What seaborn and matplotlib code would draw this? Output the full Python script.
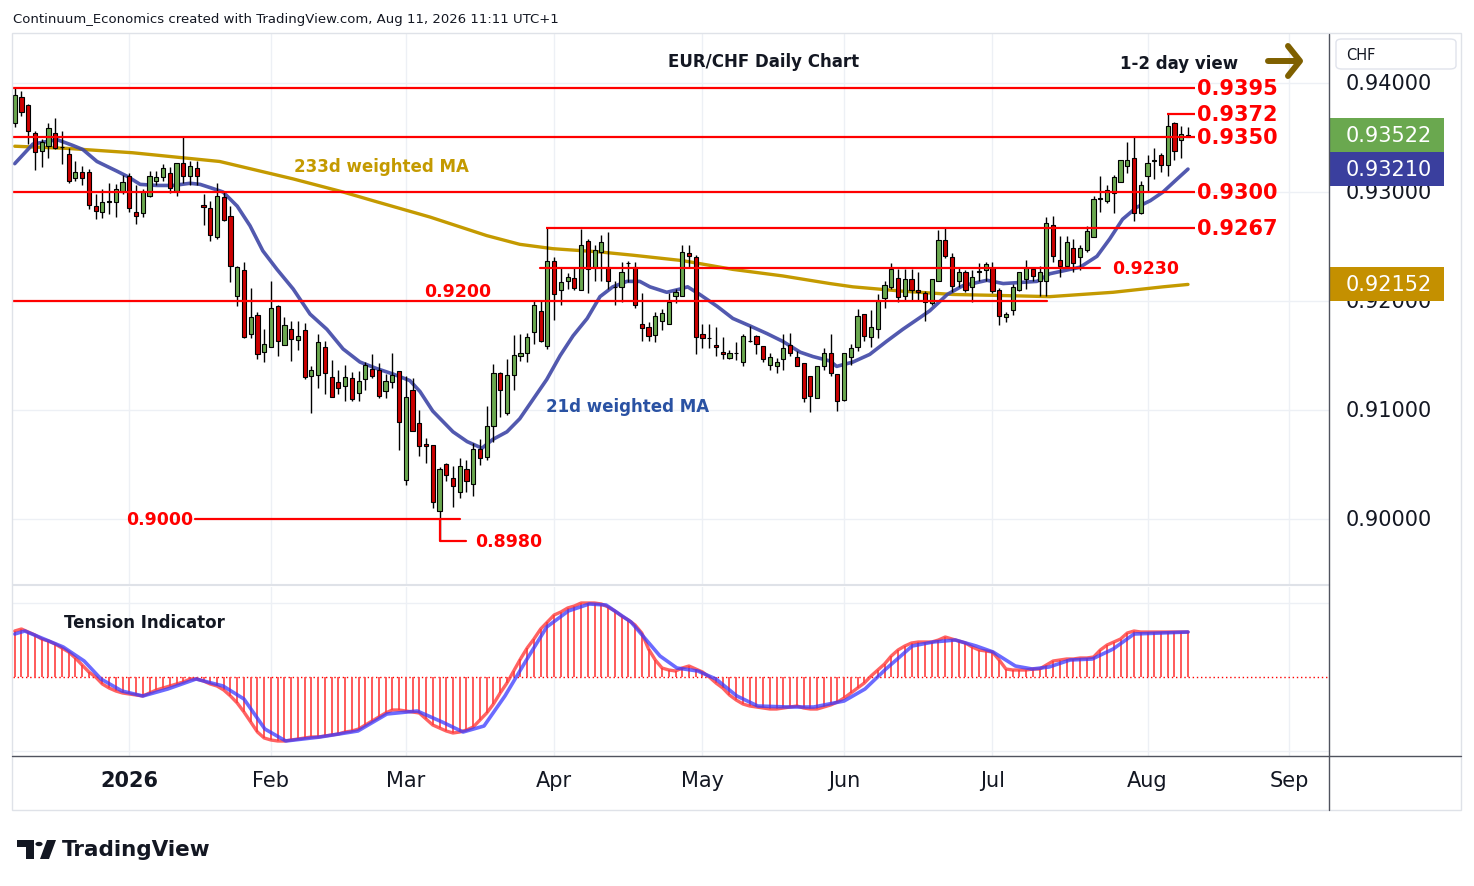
import numpy as np
import pandas as pd
import matplotlib
matplotlib.use("Agg")
import matplotlib.pyplot as plt
import seaborn as sns
from matplotlib import transforms
from matplotlib.patches import Rectangle, Polygon, Circle, FancyBboxPatch
from matplotlib.lines import Line2D

# ---------------- DATA ----------------
start_date = "2025-12-08"
end_date = "2026-08-11"
holidays = ["2025-12-25", "2026-01-01"]

opens = [0.9363,0.9387,0.9380,0.9354,0.9338,0.9342,0.9354,0.9341,0.9335,0.9313,
 0.9318,0.9318,0.9287,0.9282,0.9291,0.9291,0.9300,0.9315,0.9282,0.9281,
 0.9296,0.9310,0.9314,0.9317,0.9301,0.9327,0.9315,0.9322,0.9288,0.9285,
 0.9259,0.9295,0.9278,0.9205,0.9228,0.9170,0.9187,0.9153,0.9158,0.9195,
 0.9160,0.9174,0.9164,0.9173,0.9131,0.9132,0.9158,0.9130,0.9126,0.9122,
 0.9129,0.9116,0.9128,0.9138,0.9137,0.9117,0.9126,0.9136,0.9036,0.9118,
 0.9088,0.9069,0.9068,0.9007,0.9050,0.9038,0.9025,0.9046,0.9032,0.9064,
 0.9057,0.9085,0.9134,0.9097,0.9132,0.9150,0.9152,0.9172,0.9191,0.9159,
 0.9237,0.9210,0.9218,0.9221,0.9210,0.9255,0.9230,0.9245,0.9231,0.9213,
 0.9213,0.9235,0.9231,0.9179,0.9176,0.9169,0.9182,0.9179,0.9205,0.9205,
 0.9244,0.9240,0.9170,0.9166,0.9160,0.9153,0.9148,0.9152,0.9144,0.9163,
 0.9168,0.9159,0.9141,0.9140,0.9147,0.9160,0.9149,0.9143,0.9131,0.9111,
 0.9140,0.9152,0.9133,0.9109,0.9149,0.9158,0.9188,0.9167,0.9174,0.9203,
 0.9213,0.9221,0.9205,0.9220,0.9210,0.9207,0.9198,0.9218,0.9256,0.9240,
 0.9218,0.9227,0.9213,0.9227,0.9228,0.9230,0.9210,0.9185,0.9192,0.9210,
 0.9220,0.9229,0.9218,0.9218,0.9270,0.9238,0.9232,0.9249,0.9240,0.9247,
 0.9259,0.9294,0.9292,0.9299,0.9309,0.9324,0.9331,0.9281,0.9315,0.9328,
 0.9334,0.9325,0.9363,0.9348,0.9350]

highs = [0.9395,0.9393,0.9381,0.9356,0.9349,0.9363,0.9368,0.9356,0.9340,0.9328,
 0.9324,0.9321,0.9298,0.9303,0.9308,0.9307,0.9316,0.9317,0.9306,0.9303,
 0.9319,0.9319,0.9326,0.9323,0.9327,0.9350,0.9328,0.9328,0.9298,0.9292,
 0.9308,0.9300,0.9287,0.9232,0.9236,0.9212,0.9190,0.9174,0.9218,0.9196,
 0.9185,0.9182,0.9182,0.9180,0.9140,0.9170,0.9163,0.9146,0.9137,0.9141,
 0.9135,0.9136,0.9144,0.9151,0.9143,0.9133,0.9152,0.9136,0.9131,0.9129,
 0.9100,0.9074,0.9068,0.9048,0.9051,0.9049,0.9056,0.9054,0.9070,0.9073,
 0.9104,0.9142,0.9135,0.9147,0.9169,0.9170,0.9171,0.9201,0.9200,0.9267,
 0.9240,0.9230,0.9226,0.9230,0.9266,0.9257,0.9251,0.9261,0.9263,0.9218,
 0.9236,0.9237,0.9236,0.9207,0.9181,0.9190,0.9193,0.9207,0.9211,0.9251,
 0.9251,0.9242,0.9179,0.9179,0.9176,0.9167,0.9155,0.9162,0.9170,0.9177,
 0.9169,0.9159,0.9152,0.9148,0.9170,0.9171,0.9154,0.9143,0.9131,0.9140,
 0.9157,0.9170,0.9133,0.9152,0.9161,0.9193,0.9188,0.9192,0.9206,0.9218,
 0.9235,0.9229,0.9229,0.9229,0.9227,0.9209,0.9220,0.9265,0.9267,0.9244,
 0.9231,0.9228,0.9228,0.9235,0.9236,0.9236,0.9212,0.9190,0.9216,0.9227,
 0.9238,0.9231,0.9232,0.9277,0.9278,0.9260,0.9260,0.9257,0.9251,0.9269,
 0.9296,0.9315,0.9306,0.9316,0.9329,0.9346,0.9350,0.9310,0.9334,0.9340,
 0.9336,0.9372,0.9364,0.9361,0.9360]

lows = [0.9360,0.9370,0.9344,0.9320,0.9323,0.9331,0.9339,0.9326,0.9308,0.9310,
 0.9306,0.9284,0.9275,0.9276,0.9280,0.9277,0.9298,0.9282,0.9271,0.9277,
 0.9295,0.9306,0.9310,0.9299,0.9296,0.9308,0.9306,0.9306,0.9270,0.9255,
 0.9257,0.9273,0.9217,0.9195,0.9166,0.9166,0.9147,0.9144,0.9158,0.9150,
 0.9160,0.9145,0.9155,0.9128,0.9097,0.9120,0.9115,0.9112,0.9115,0.9108,
 0.9108,0.9108,0.9118,0.9129,0.9111,0.9111,0.9120,0.9063,0.9031,0.9081,
 0.9058,0.9051,0.9010,0.8980,0.9035,0.9011,0.9019,0.9025,0.9021,0.9050,
 0.9054,0.9071,0.9094,0.9095,0.9118,0.9145,0.9144,0.9161,0.9162,0.9156,
 0.9183,0.9196,0.9211,0.9210,0.9210,0.9207,0.9218,0.9218,0.9211,0.9196,
 0.9199,0.9217,0.9194,0.9163,0.9163,0.9162,0.9173,0.9179,0.9198,0.9205,
 0.9231,0.9151,0.9157,0.9157,0.9150,0.9147,0.9147,0.9146,0.9140,0.9162,
 0.9151,0.9144,0.9137,0.9134,0.9137,0.9150,0.9140,0.9107,0.9098,0.9111,
 0.9137,0.9131,0.9099,0.9108,0.9141,0.9154,0.9163,0.9158,0.9166,0.9194,
 0.9211,0.9199,0.9200,0.9201,0.9201,0.9182,0.9196,0.9218,0.9239,0.9208,
 0.9213,0.9208,0.9199,0.9218,0.9218,0.9207,0.9178,0.9181,0.9187,0.9209,
 0.9211,0.9218,0.9205,0.9205,0.9236,0.9222,0.9231,0.9227,0.9228,0.9245,
 0.9259,0.9282,0.9290,0.9281,0.9309,0.9317,0.9273,0.9280,0.9301,0.9312,
 0.9318,0.9315,0.9329,0.9331,0.9350]

closes = [0.9389,0.9373,0.9356,0.9337,0.9346,0.9359,0.9340,0.9341,0.9310,0.9318,
 0.9313,0.9288,0.9283,0.9291,0.9291,0.9303,0.9309,0.9285,0.9278,0.9300,
 0.9315,0.9314,0.9322,0.9304,0.9327,0.9315,0.9324,0.9315,0.9286,0.9261,
 0.9296,0.9274,0.9232,0.9231,0.9167,0.9185,0.9151,0.9161,0.9194,0.9163,
 0.9178,0.9165,0.9168,0.9130,0.9137,0.9162,0.9134,0.9112,0.9120,0.9130,
 0.9110,0.9127,0.9141,0.9131,0.9113,0.9127,0.9132,0.9089,0.9112,0.9081,
 0.9067,0.9067,0.9016,0.9046,0.9040,0.9030,0.9049,0.9035,0.9064,0.9056,
 0.9085,0.9134,0.9118,0.9132,0.9150,0.9152,0.9167,0.9196,0.9163,0.9237,
 0.9206,0.9217,0.9222,0.9212,0.9251,0.9229,0.9247,0.9254,0.9218,0.9213,
 0.9227,0.9235,0.9196,0.9175,0.9168,0.9186,0.9189,0.9199,0.9208,0.9245,
 0.9241,0.9167,0.9166,0.9166,0.9158,0.9151,0.9152,0.9152,0.9168,0.9163,
 0.9161,0.9147,0.9149,0.9144,0.9157,0.9152,0.9140,0.9111,0.9113,0.9140,
 0.9152,0.9134,0.9108,0.9152,0.9157,0.9186,0.9168,0.9176,0.9200,0.9215,
 0.9229,0.9204,0.9220,0.9210,0.9208,0.9199,0.9220,0.9256,0.9241,0.9214,
 0.9227,0.9210,0.9222,0.9227,0.9234,0.9209,0.9186,0.9188,0.9213,0.9227,
 0.9230,0.9223,0.9227,0.9272,0.9241,0.9232,0.9254,0.9235,0.9249,0.9264,
 0.9294,0.9294,0.9302,0.9314,0.9329,0.9329,0.9281,0.9306,0.9327,0.9329,
 0.9325,0.9361,0.9338,0.9353,0.93522]

# 21d weighted MA (bar position, value)
ma21_x = [0,2.7,6.3,8.5,10.1,12.2,15.2,16.8,18.6,21.1,23.5,26.0,27.5,29.0,30.9,
 33.0,34.9,36.8,38.9,41.3,43.8,46.3,48.7,51.2,53.7,56.1,58.6,60.1,62.0,65.0,
 67.1,69.3,70.9,73.0,74.9,76.9,78.9,80.9,82.8,84.9,86.8,88.7,90.8,92.7,94.2,
 96.7,98.7,99.8,101.6,104.2,106.5,109.1,111.6,113.9,116.5,118.4,120.9,121.9,124.3,126.8,
 129.3,131.7,134.3,135.7,138.3,140.6,144.2,146.6,149.1,151.6,153.5,158.0,160.5,162.4,164.3,
 166.4,168.4,170.3,172.4,174.0]
ma21_v = [0.9326,0.9344,0.9348,0.9343,0.9339,0.9328,0.9319,0.9314,0.9307,0.9306,0.9306,0.9308,0.9307,0.9304,0.9300,
 0.9287,0.9269,0.9246,0.9229,0.9211,0.9188,0.9174,0.9156,0.9144,0.9138,0.9133,0.9127,0.9117,0.9099,0.9080,
 0.9071,0.9065,0.9073,0.9080,0.9092,0.9110,0.9128,0.9150,0.9168,0.9184,0.9204,0.9213,0.9218,0.9218,0.9213,
 0.9208,0.9211,0.9213,0.9206,0.9195,0.9184,0.9177,0.9170,0.9163,0.9153,0.9149,0.9145,0.9140,0.9144,0.9151,
 0.9163,0.9174,0.9185,0.9191,0.9206,0.9214,0.9219,0.9216,0.9217,0.9218,0.9225,0.9231,0.9241,0.9257,0.9275,
 0.9286,0.9292,0.9300,0.9312,0.9321]

# 233d weighted MA
ma233_x = [0,7.8,17.5,30.4,41.3,48.7,53.7,61.6,70.0,74.9,79.8,86.8,91.7,99.1,106.5,
 113.9,120.9,124.3,131.7,139.1,146.6,153.5,162.9,170.3,174.0]
ma233_v = [0.9342,0.9340,0.9336,0.9328,0.9312,0.9300,0.9291,0.9277,0.9260,0.9252,0.9248,0.9245,0.9242,0.9237,0.9229,
 0.9223,0.9216,0.9213,0.9209,0.9206,0.9205,0.9204,0.9208,0.9213,0.92152]

# Tension indicator (red, per bar) and its signal (blue)
tension = [46,48,45,42,38,36,33,29,25,19,
 12,5,0,-7,-11,-14,-16,-17,-18,-19,
 -16,-13,-11,-9,-7,-5,-2,-2,-4,-7,
 -9,-13,-19,-26,-35,-45,-55,-61,-63,-64,
 -64,-63,-62,-61,-60,-60,-59,-58,-57,-55,
 -54,-52,-48,-44,-40,-36,-33,-33,-34,-35,
 -36,-42,-48,-51,-54,-56,-55,-53,-50,-43,
 -36,-27,-16,-6,6,18,29,38,48,55,
 62,65,69,71,74,74,74,73,70,66,
 61,57,52,44,28,17,9,7,6,9,
 11,8,5,0,-6,-11,-18,-23,-27,-29,
 -30,-31,-32,-32,-31,-30,-29,-31,-32,-32,
 -30,-28,-25,-21,-16,-11,-6,1,7,13,
 21,27,31,34,35,35,35,37,40,38,
 36,34,30,27,26,25,17,8,7,7,
 7,8,8,12,16,17,18,18,19,19,
 20,27,32,35,38,44,46,45,45,45,
 45,45,45,45,45]
signal_x = [0.0,1.5,7.2,10.3,12.8,15.9,19.0,22.7,26.9,30.9,34.0,37.1,40.2,45.3,50.9,
 55.2,59.7,63.4,66.5,69.6,72.7,75.8,78.9,82.1,85.2,87.7,91.4,95.7,98.2,101.3,
 104.0,107.1,110.2,114.7,118.5,123.0,126.1,129.2,133.1,136.2,139.5,142.6,145.1,148.4,150.9,
 153.4,156.5,159.8,162.9,166.0,174.0]
signal_v = [43,46,30,16,-2,-14,-19,-12,-2,-9,-22,-52,-64,-60,-54,
 -37,-34,-45,-55,-49,-19,16,50,66,73,72,55,21,9,6,
 -2,-19,-29,-30,-30,-24,-12,8,31,35,37,31,25,11,8,
 10,17,18,28,43,45]

levels_right = [0.9395, 0.9372, 0.9350, 0.9300, 0.9267]
level_9230 = 0.9230
level_9200 = 0.9200
level_9000 = 0.9000
level_8980 = 0.8980
price_ticks = [0.94, 0.93, 0.92, 0.91, 0.90]
month_labels = ["2026", "Feb", "Mar", "Apr", "May", "Jun", "Jul", "Aug", "Sep"]
month_keys = [(2026, 1), (2026, 2), (2026, 3), (2026, 4), (2026, 5), (2026, 6), (2026, 7), (2026, 8), (2026, 9)]

# ---------------- LAYOUT ----------------
W, H = 1474, 887
BAR0_PX, BAR_PX = 14.7, 6.743
def fx(x): return x / W
def fy(y): return 1 - y / H
def idx(px): return (px - BAR0_PX) / BAR_PX
def price_at(py): return 0.94 - (py - 84) / 10900.0

sns.set_style("white")
plt.rcParams["font.family"] = ["DejaVu Sans"]

fig = plt.figure(figsize=(W / 100, H / 100), dpi=100)
fig.patch.set_facecolor("white")

ax = fig.add_axes([fx(13), fy(585), fx(1329) - fx(13), fy(35) - fy(585)])
ax2 = fig.add_axes([fx(13), fy(757), fx(1329) - fx(13), fy(588) - fy(757)])
for a in (ax, ax2):
    a.set_xlim(idx(13), idx(1329))
    a.set_xticks([]); a.set_yticks([])
    for s in a.spines.values():
        s.set_visible(False)
    a.set_facecolor("white")
ax.set_ylim(price_at(585), price_at(35))
ax2.set_ylim(-79, 90)

dates = pd.bdate_range(start_date, end_date)
dates = dates[~dates.isin(pd.to_datetime(holidays))]
n = len(dates)
pos = np.arange(n)

tick_pos = []
for (yy, mm) in month_keys:
    mask = (dates.year == yy) & (dates.month == mm)
    if mask.any():
        tick_pos.append(int(np.argmax(mask)))
    else:
        extra = len(pd.bdate_range(dates[-1] + pd.Timedelta(days=1), pd.Timestamp(yy, mm, 1)))
        tick_pos.append(n - 1 + extra)

grid_c = "#edf0f5"
for t in tick_pos:
    ax.axvline(t, color=grid_c, lw=1, zorder=0)
    ax2.axvline(t, color=grid_c, lw=1, zorder=0)
for p in price_ticks:
    ax.axhline(p, color=grid_c, lw=1, zorder=0)
ax2.axhline(74, color=grid_c, lw=1, zorder=0)
ax2.axhline(-74, color=grid_c, lw=1, zorder=0)

# moving averages
sns.lineplot(x=ma233_x, y=ma233_v, ax=ax, color="#c49a00", linewidth=2.4, zorder=2, legend=False)
sns.lineplot(x=ma21_x, y=ma21_v, ax=ax, color="#3f47a6", linewidth=2.6, alpha=0.9, zorder=2, legend=False)

# candles
o = np.array(opens); h = np.array(highs); l = np.array(lows); c = np.array(closes)
ax.vlines(pos, l, h, color="black", lw=1.0, zorder=3)
cols = np.where(c > o, "#6aa84f", np.where(c < o, "#cc0000", "black"))
bottoms = np.minimum(o, c)
heights = np.maximum(np.abs(c - o), 0.00003)
ax.bar(pos, heights, bottom=bottoms, width=0.62, color=cols, edgecolor="black", linewidth=0.8, zorder=3)

# level lines
red = "#ff0000"
right_end = idx(1195)
line_starts = [idx(13), idx(1167), idx(13), idx(13), idx(546)]
for lv, xs in zip(levels_right, line_starts):
    ax.plot([xs, right_end], [lv, lv], color=red, lw=1.6, zorder=4, solid_capstyle="butt")
    ax.text(idx(1197), lv, f"{lv:.4f}", color=red, fontsize=15, fontweight="bold",
            va="center", ha="left", zorder=6, clip_on=False)
ax.plot([idx(540), idx(1100)], [level_9230, level_9230], color=red, lw=1.6, zorder=4)
ax.text(idx(1112), level_9230, f"{level_9230:.4f}", color=red, fontsize=12.5, fontweight="bold",
        va="center", ha="left", zorder=6)
ax.plot([idx(13), idx(1047)], [level_9200, level_9200], color=red, lw=1.6, zorder=4)
ax.text(idx(424), level_9200 + 0.00095, f"{level_9200:.4f}", color=red, fontsize=12.5,
        fontweight="bold", va="center", ha="left", zorder=6)
ax.plot([idx(195), idx(460)], [level_9000, level_9000], color=red, lw=1.6, zorder=4)
ax.text(idx(193), level_9000, f"{level_9000:.4f}", color=red, fontsize=12.5, fontweight="bold",
        va="center", ha="right", zorder=6)
ax.plot([idx(440), idx(440), idx(466)], [level_9000, level_8980, level_8980], color=red, lw=1.6, zorder=4)
ax.text(idx(475), level_8980, f"{level_8980:.4f}", color=red, fontsize=12.5, fontweight="bold",
        va="center", ha="left", zorder=6)

# annotations in price pane
def ftext(x, y, s, **kw):
    fig.text(fx(x), fy(y), s, **kw)

ftext(764, 62, "EUR/CHF Daily Chart", fontsize=12, fontweight="bold", color="#131722", ha="center", va="center")
ftext(1120, 64, "1-2 day view", fontsize=12, fontweight="bold", color="#131722", ha="left", va="center")
ftext(294, 167, "233d weighted MA", fontsize=12, fontweight="bold", color="#c49a00", ha="left", va="center")
ftext(546, 407, "21d weighted MA", fontsize=12, fontweight="bold", color="#2a52a3", ha="left", va="center")
ftext(64, 623, "Tension Indicator", fontsize=12, fontweight="bold", color="#131722", ha="left", va="center")
ftext(13, 19, "Continuum_Economics created with TradingView.com, Aug 11, 2026 11:11 UTC+1",
      fontsize=9.5, color="#131722", ha="left", va="center")

# arrow
arrow_c = "#7f6000"
fig.add_artist(Line2D([fx(1268), fx(1298)], [fy(62), fy(62)], color=arrow_c, lw=4.3, solid_capstyle="round"))
fig.add_artist(Line2D([fx(1288), fx(1300), fx(1288)], [fy(47), fy(62), fy(77)], color=arrow_c, lw=4.3,
                      solid_capstyle="round", solid_joinstyle="round"))

# tension indicator
ax2.axhline(0, color=red, lw=1.0, ls=(0, (1, 2)), zorder=1)
ax2.vlines(pos, 0, tension, color="#ff4d4d", lw=1.3, zorder=2)
sns.lineplot(x=pos, y=tension, ax=ax2, color="#ff3b3b", linewidth=2.4, alpha=0.8, zorder=3, legend=False)
sns.lineplot(x=signal_x, y=signal_v, ax=ax2, color="#3a3aff", linewidth=2.6, alpha=0.75, zorder=4, legend=False)

# frame & separators
fig.add_artist(Rectangle((fx(12), fy(811)), fx(1461) - fx(12), fy(34) - fy(811), fill=False,
                         edgecolor="#dfe2e8", lw=1))
fig.add_artist(Line2D([fx(13), fx(1329)], [fy(586), fy(586)], color="#dfe2e8", lw=1.5))
fig.add_artist(Line2D([fx(1329), fx(1329)], [fy(35), fy(811)], color="#50535e", lw=1))
fig.add_artist(Line2D([fx(12), fx(1461)], [fy(757), fy(757)], color="#50535e", lw=1))

# right price scale
bt = transforms.blended_transform_factory(fig.transFigure, ax.transData)
for p in price_ticks:
    ax.text(fx(1346), p, f"{p:.5f}", transform=bt, fontsize=15, color="#131722",
            va="center", ha="left", clip_on=False, zorder=5)
box_h = 34 / 10900.0
for val, col in [(closes[-1], "#6aa84f"), (ma21_v[-1], "#3a3f9e"), (ma233_v[-1], "#c49000")]:
    ax.add_patch(Rectangle((fx(1330), val - box_h / 2), fx(1444) - fx(1330), box_h, transform=bt,
                           facecolor=col, edgecolor="none", clip_on=False, zorder=7))
    ax.text(fx(1346), val, f"{val:.5f}", transform=bt, fontsize=15, color="white",
            va="center", ha="left", clip_on=False, zorder=8)

fig.add_artist(FancyBboxPatch((fx(1336), fy(70)), fx(1456) - fx(1336), fy(40) - fy(70),
                              boxstyle="round,pad=0,rounding_size=0.004", facecolor="white",
                              edgecolor="#e0e3eb", lw=1))
ftext(1346, 55, "CHF", fontsize=10.5, color="#131722", ha="left", va="center")

# time axis labels
bt2 = transforms.blended_transform_factory(ax2.transData, fig.transFigure)
for t, lab in zip(tick_pos, month_labels):
    ax2.text(t, fy(781), lab, transform=bt2, fontsize=15, color="#131722",
             fontweight="bold" if lab == "2026" else "normal",
             ha="center", va="center", clip_on=False)

# TradingView logo
logo_c = "#131722"
fig.add_artist(Polygon([[fx(17), fy(841)], [fx(34), fy(841)], [fx(34), fy(860)], [fx(26), fy(860)],
                        [fx(26), fy(848)], [fx(17), fy(848)]], closed=True, facecolor=logo_c, edgecolor="none"))
fig.add_artist(Circle((fx(39), fy(845)), 3.6 / W, facecolor=logo_c, edgecolor="none"))
fig.add_artist(Polygon([[fx(40), fy(860)], [fx(47), fy(841)], [fx(56), fy(841)], [fx(49), fy(860)]],
                       closed=True, facecolor=logo_c, edgecolor="none"))
ftext(62, 850, "TradingView", fontsize=15.5, fontweight="bold", color=logo_c, ha="left", va="center")

fig.savefig("out.png", dpi=100)
